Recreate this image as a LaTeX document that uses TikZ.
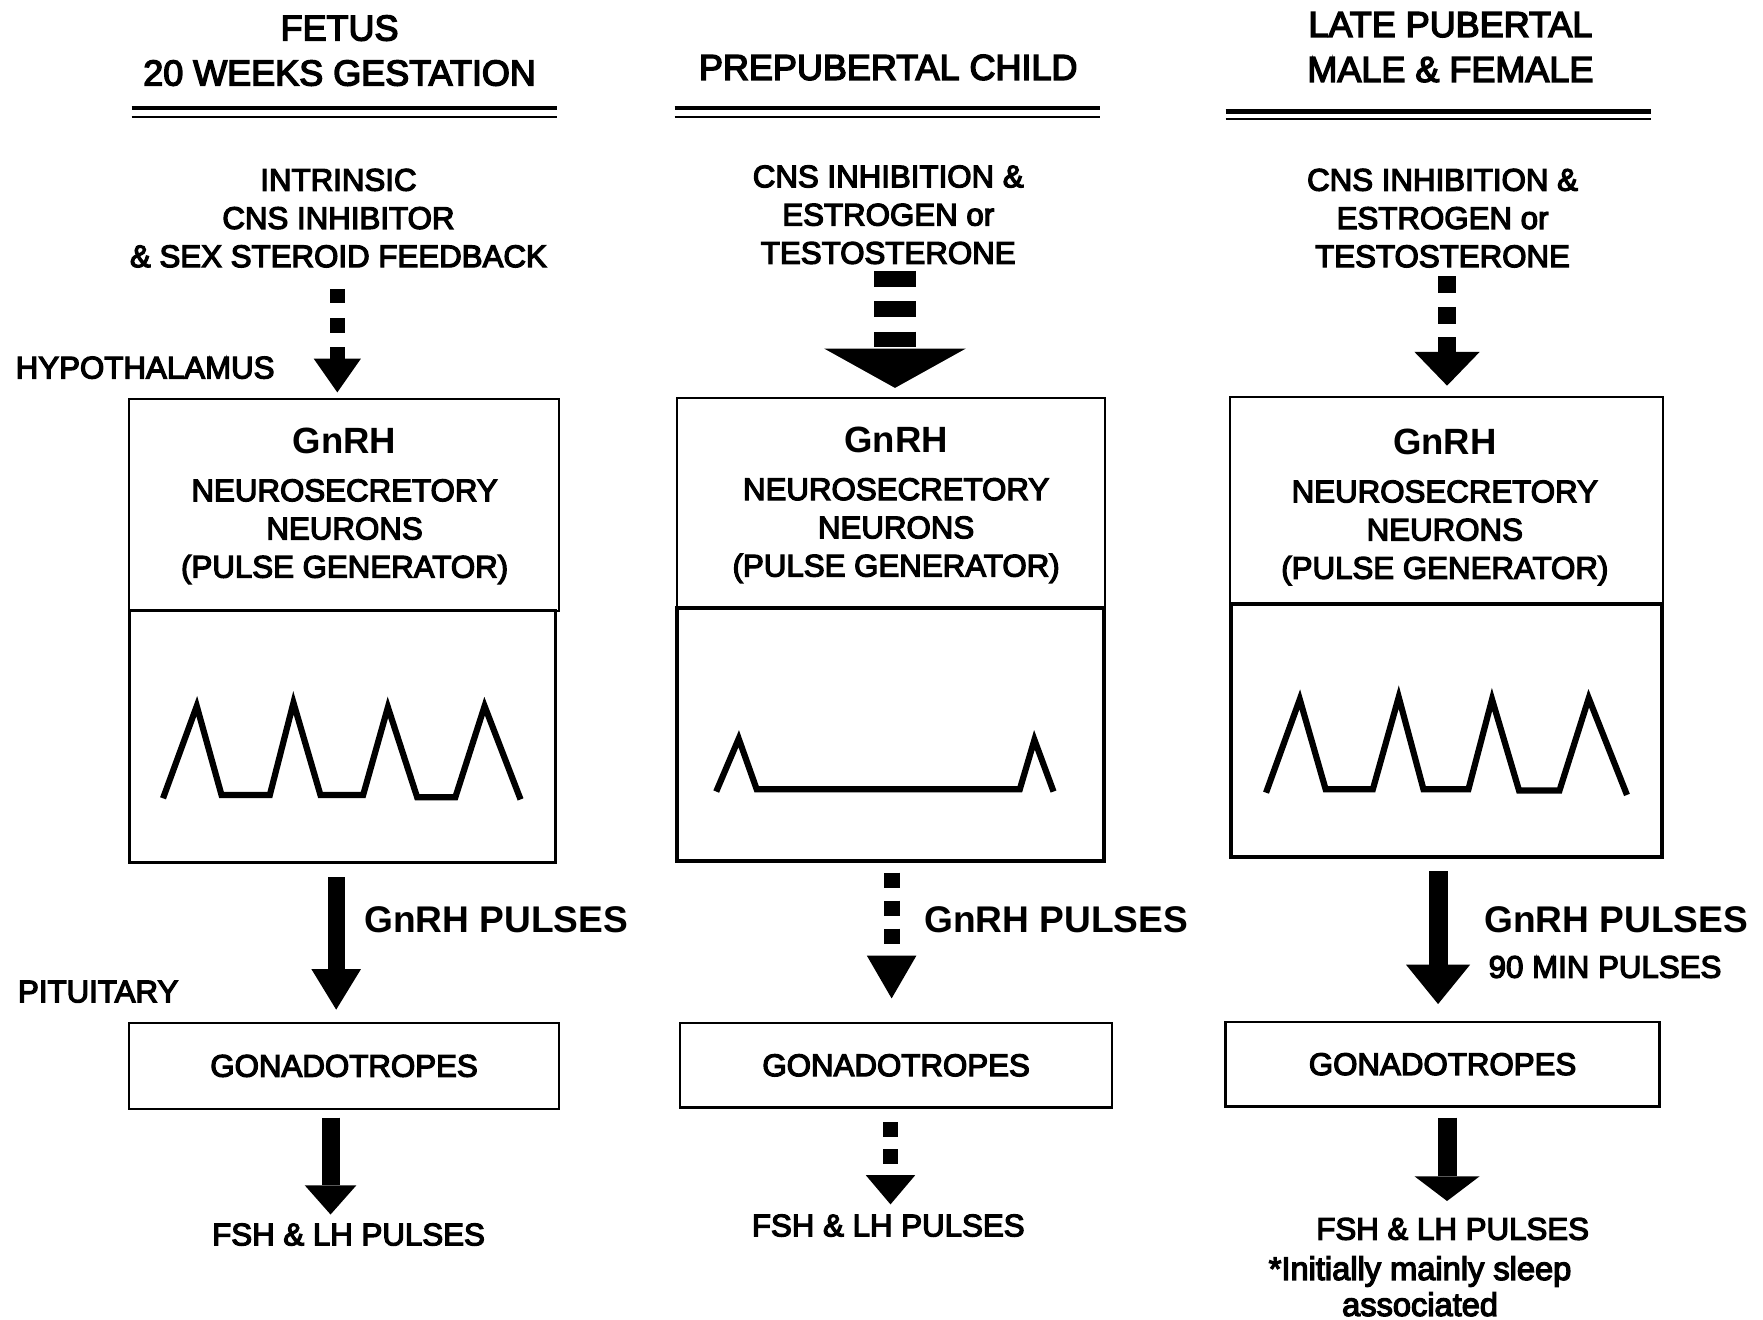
\documentclass[tikz,border=0pt]{standalone}
\usepackage{fontspec}
\setmainfont{Liberation Sans}
\newfontfamily\medfont[FakeBold=4]{Liberation Sans}
\usetikzlibrary{arrows.meta}
\tikzset{
 lbl/.style={inner sep=0pt, outer sep=0pt, align=center, font=\medfont\fontsize{27.8}{34}\selectfont},
 ttl/.style={inner sep=0pt, outer sep=0pt, align=center, font=\medfont\fontsize{32}{40}\selectfont},
 blbl/.style={inner sep=0pt, outer sep=0pt, font=\rmfamily\bfseries\fontsize{33}{40}\selectfont},
 hbox/.style={draw, line width=1.8pt, inner sep=0pt, outer sep=0pt},
 pbox/.style={draw, line width=3.2pt, inner sep=0pt, outer sep=0pt},
 gbox/.style={draw, line width=2pt, inner sep=0pt, outer sep=0pt, font=\medfont\fontsize{27.8}{34}\selectfont},
 wave/.style={line width=5.5pt, line join=miter},
 rulethick/.style={line width=4pt},
 rulethin/.style={line width=1.6pt},
 blockarrow/.style n args={3}{line width=#1pt, -{Triangle[line width=0pt,width=#2pt,length=#3pt]}},
}
\newcommand{\gnrhtext}{{\rmfamily\bfseries\fontsize{32.5}{34}\selectfont GnRH}\\[8.5pt] NEUROSECRETORY\\NEURONS\\(PULSE GENERATOR)}
\begin{document}
\begin{tikzpicture}[x=1pt,y=-1pt]
\fill[white] (0,0) rectangle (1568,1174);
\useasboundingbox (0,0) rectangle (1568,1174);

% ---------- titles ----------
\node[ttl] (t1) at (302,45) {FETUS\\20 WEEKS GESTATION};
\node[ttl] (t2) at (790,60) {PREPUBERTAL CHILD};
\node[ttl] (t3) at (1290,42) {LATE PUBERTAL\\MALE \& FEMALE};
\draw[rulethick] (117,96) -- (495,96);
\draw[rulethin] (117,104) -- (495,104);
\draw[rulethick] (600,96) -- (978,96);
\draw[rulethin] (600,104) -- (978,104);
\draw[rulethick] (1090,99) -- (1468,99);
\draw[rulethin] (1090,106) -- (1468,106);

% ---------- inhibitors ----------
\node[lbl] (in1) at (301,194) {INTRINSIC\\CNS INHIBITOR\\\& SEX STEROID FEEDBACK};
\node[lbl] (in2) at (790,191) {CNS INHIBITION \&\\ESTROGEN or\\TESTOSTERONE};
\node[lbl] (in3) at (1283,194) {CNS INHIBITION \&\\ESTROGEN or\\TESTOSTERONE};

% ---------- side labels ----------
\node[lbl, anchor=west] (hyp) at (14,327) {HYPOTHALAMUS};
\node[lbl, anchor=west] (pit) at (16,882) {PITUITARY};

% ---------- hypothalamic boxes ----------
\node[hbox, minimum width=382pt, minimum height=188pt] (h1) at (306,449) {};
\node[pbox, minimum width=379pt, minimum height=224pt] (p1) at (304.5,655) {};
\node[lbl] (h1t) at (306.5,450) {\gnrhtext};

\node[hbox, minimum width=381pt, minimum height=187pt] (h2) at (792.5,447.5) {};
\node[pbox, minimum width=380pt, minimum height=225pt] (p2) at (792,653.5) {};
\node[lbl] (h2t) at (797,449) {\gnrhtext};

\node[hbox, minimum width=385pt, minimum height=184pt] (h3) at (1286.5,445) {};
\node[pbox, minimum width=383pt, minimum height=225pt] (p3) at (1286.5,649.5) {};
\node[lbl] (h3t) at (1285,451) {\gnrhtext};

% ---------- waveforms ----------
\draw[wave] (145,710) -- (175,628) -- (197,707) -- (240,707) -- (261,625) -- (285,707) -- (323,707) -- (345,629) -- (371,709) -- (405,709) -- (431,628) -- (463,711);
\draw[wave] (637,704) -- (657,657) -- (673,702) -- (907,702) -- (920,658) -- (937,704);
\draw[wave] (1126,705) -- (1156,622) -- (1179,702) -- (1221,702) -- (1244,620) -- (1266,702) -- (1306,702) -- (1327,622) -- (1351,703) -- (1387,703) -- (1413,621) -- (1447,707);

% ---------- gonadotropes ----------
\node[gbox, minimum width=382pt, minimum height=76pt] (g1) at (306,948) {GONADOTROPES};
\node[gbox, minimum width=384pt, minimum height=75pt] (g2) at (797,947.5) {GONADOTROPES};
\node[gbox, minimum width=386pt, minimum height=75pt] (g3) at (1283,946.5) {GONADOTROPES};

% ---------- pulse labels ----------
\node[blbl, anchor=west] (gp1) at (324,818) {GnRH PULSES};
\node[blbl, anchor=west] (gp2) at (822,818) {GnRH PULSES};
\node[blbl, anchor=west] (gp3) at (1320,818) {GnRH PULSES};
\node[lbl, anchor=west] (min90) at (1324,860) {90 MIN PULSES};

\node[lbl] (f1) at (310,1098) {FSH \& LH PULSES};
\node[lbl] (f2) at (790,1090) {FSH \& LH PULSES};
\node[lbl] (f3) at (1292,1093) {FSH \& LH PULSES};
\node[lbl, font=\medfont\fontsize{29}{32}\selectfont] (note) at (1263,1144) {*Initially mainly sleep\\associated};

% ---------- arrows: column 1 ----------
\draw[blockarrow={13}{42}{30}, dash pattern=on 13pt off 13pt, shorten <=19pt, shorten >=6pt] (in1.south -| 300,0) -- (h1.north -| 300,0);
\draw[blockarrow={15}{44}{36}, shorten <=13pt, shorten >=12pt] (p1.south -| 299,0) -- (g1.north -| 299,0);
\draw[blockarrow={16}{46}{26}, shorten <=8pt, shorten >=8pt] (g1.south -| 294,0) -- (f1.north -| 294,0);

% ---------- arrows: column 2 ----------
\draw[blockarrow={38}{126}{35}, dash pattern=on 14pt off 13pt, shorten <=6pt, shorten >=9pt] (in2.south -| 796,0) -- (h2.north -| 796,0);
\draw[blockarrow={14}{44}{38}, dash pattern=on 14pt off 11pt, shorten <=10pt, shorten >=22pt] (p2.south -| 793,0) -- (g2.north -| 793,0);
\draw[blockarrow={14}{44}{26}, dash pattern=on 13pt off 11pt, shorten <=13pt, shorten >=9pt] (g2.south -| 792,0) -- (f2.north -| 792,0);

% ---------- arrows: column 3 ----------
\draw[blockarrow={16}{58}{30}, dash pattern=on 15pt off 12pt, shorten <=8pt, shorten >=10pt] (in3.south -| 1287,0) -- (h3.north -| 1287,0);
\draw[blockarrow={17}{57}{35}, shorten <=13pt, shorten >=16pt] (p3.south -| 1279,0) -- (g3.north -| 1279,0);
\draw[blockarrow={17}{58}{22}, shorten <=10pt, shorten >=15pt] (g3.south -| 1287,0) -- (f3.north -| 1287,0);
\end{tikzpicture}
\end{document}
